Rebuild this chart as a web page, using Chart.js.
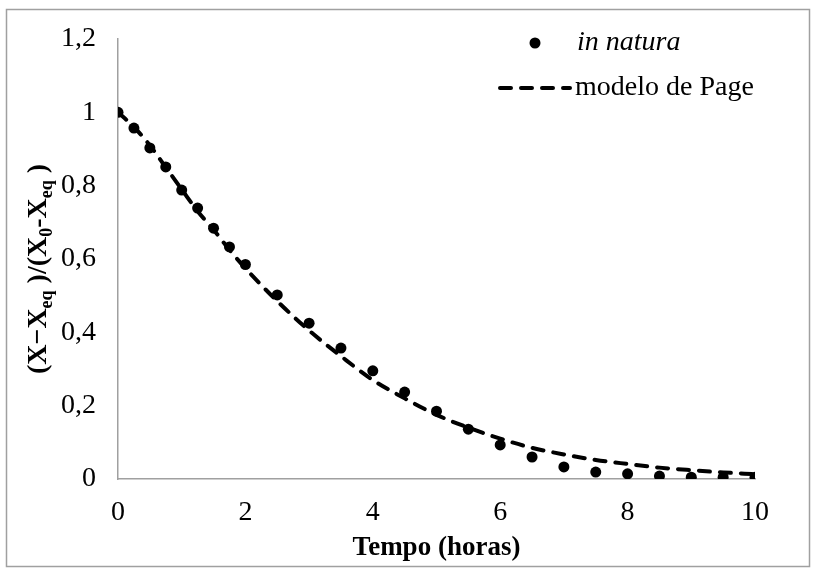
<!DOCTYPE html>
<html>
<head>
<meta charset="utf-8">
<script src="https://cdn.jsdelivr.net/npm/chart.js@4"></script>
<style>
  html, body { margin: 0; padding: 0; background: #fff; }
  #wrap { position: relative; width: 813px; height: 571px; }
</style>
</head>
<body>
<div id="wrap"><canvas id="c" width="813" height="571"></canvas></div>
<script>
// ---- data ----
const times = [0, 0.25, 0.5, 0.75, 1, 1.25, 1.5, 1.75, 2, 2.5, 3, 3.5, 4, 4.5, 5, 5.5, 6, 6.5, 7, 7.5, 8, 8.5, 9, 9.5, 10];
const inNatura = [1.0, 0.957, 0.903, 0.851, 0.788, 0.739, 0.684, 0.633, 0.585, 0.502, 0.425, 0.357, 0.295, 0.237, 0.185, 0.136, 0.093, 0.06, 0.033, 0.019, 0.014, 0.008, 0.005, 0.005, 0.005];
const modeloPage = [1.0, 0.96, 0.91, 0.85, 0.79, 0.73, 0.68, 0.625, 0.575, 0.485, 0.405, 0.335, 0.27, 0.22, 0.175, 0.14, 0.11, 0.085, 0.067, 0.052, 0.041, 0.031, 0.024, 0.018, 0.013];
const seriesLabels = ['in natura', 'modelo de Page'];
const xTicks = [0, 2, 4, 6, 8, 10];
const yTicks = [0, 0.2, 0.4, 0.6, 0.8, 1, 1.2];
const xTitle = 'Tempo (horas)';
// y title pieces: [text, isSubscript]
const yTitleParts = [['(X\u2212X', false], ['eq', true], [' )/(X', false], ['0', true], ['-X', false], ['eq', true], [' )', false]];

const FONT = '"Liberation Serif", "Times New Roman", serif';
const AXIS_COLOR = '#a0a0a0';
const DASH = [11, 10];

const ptsNatura = times.map((t, i) => ({ x: t, y: inNatura[i] }));
const ptsModel = times.map((t, i) => ({ x: t, y: modeloPage[i] }));

function fmt(v) {
  return String(Number(v.toFixed(1))).replace('.', ',');
}

const decorPlugin = {
  id: 'decor',
  afterDraw(chart) {
    const ctx = chart.ctx;
    ctx.save();
    // outer frame
    ctx.strokeStyle = '#a0a0a0';
    ctx.lineWidth = 1.5;
    ctx.strokeRect(6.5, 9.5, 803, 557);

    // y-axis title with subscripts
    const size = 28, sub = 18;
    ctx.fillStyle = '#000';
    ctx.textBaseline = 'alphabetic';
    ctx.textAlign = 'left';
    let total = 0;
    yTitleParts.forEach(([t, s]) => {
      ctx.font = 'bold ' + (s ? sub : size) + 'px ' + FONT;
      total += ctx.measureText(t).width;
    });
    const cy = (chart.chartArea.top + chart.chartArea.bottom) / 2 + 10;
    ctx.translate(46, cy);
    ctx.rotate(-Math.PI / 2);
    let x = -total / 2;
    yTitleParts.forEach(([t, s]) => {
      ctx.font = 'bold ' + (s ? sub : size) + 'px ' + FONT;
      ctx.fillText(t, x, s ? 6 : 0);
      x += ctx.measureText(t).width;
    });
    ctx.restore();

    // legend
    ctx.save();
    ctx.fillStyle = '#000';
    ctx.beginPath();
    ctx.arc(535, 43, 5.5, 0, Math.PI * 2);
    ctx.fill();
    ctx.strokeStyle = '#000';
    ctx.lineWidth = 4;
    ctx.lineCap = 'round';
    ctx.setLineDash(DASH);
    ctx.beginPath();
    ctx.moveTo(500, 88);
    ctx.lineTo(570, 88);
    ctx.stroke();
    ctx.setLineDash([]);
    ctx.textBaseline = 'middle';
    ctx.textAlign = 'left';
    ctx.font = 'italic 28px ' + FONT;
    ctx.fillText(seriesLabels[0], 577, 43);
    ctx.font = '28px ' + FONT;
    ctx.fillText(seriesLabels[1], 575, 88);
    ctx.restore();
  }
};

new Chart(document.getElementById('c'), {
  type: 'scatter',
  data: {
    datasets: [
      {
        label: seriesLabels[1],
        data: ptsModel,
        showLine: true,
        borderColor: '#000',
        borderWidth: 4,
        borderDash: DASH,
        borderCapStyle: 'round',
        pointRadius: 0,
        cubicInterpolationMode: 'monotone',
        fill: false
      },
      {
        label: seriesLabels[0],
        data: ptsNatura,
        showLine: false,
        backgroundColor: '#000',
        borderColor: '#000',
        pointRadius: 5.5,
        pointBorderWidth: 0
      }
    ]
  },
  options: {
    responsive: false,
    animation: false,
    devicePixelRatio: 1,
    layout: { padding: { left: 0, top: 39, right: 58, bottom: 0 } },
    plugins: { legend: { display: false }, tooltip: { enabled: false } },
    scales: {
      x: {
        type: 'linear',
        min: 0, max: 10,
        afterBuildTicks: (s) => { s.ticks = xTicks.map(v => ({ value: v })); },
        afterFit: (s) => { s.height = 92; },
        grid: { display: false, drawTicks: false },
        border: { display: true, color: AXIS_COLOR, width: 1.5 },
        ticks: { color: '#000', padding: 17, font: { family: FONT, size: 28 }, callback: (v) => fmt(v), maxRotation: 0 },
        title: { display: true, text: xTitle, color: '#000', font: { family: FONT, size: 27, weight: 'bold' }, padding: { top: 0, bottom: 7 } }
      },
      y: {
        type: 'linear',
        min: 0, max: 1.2,
        afterBuildTicks: (s) => { s.ticks = yTicks.map(v => ({ value: v })); },
        afterFit: (s) => { s.width = 118; },
        grid: { display: false, drawTicks: false },
        border: { display: true, color: AXIS_COLOR, width: 1.5 },
        ticks: { color: '#000', padding: 22, font: { family: FONT, size: 28 }, callback: (v) => fmt(v) }
      }
    }
  },
  plugins: [decorPlugin]
});
</script>
</body>
</html>
